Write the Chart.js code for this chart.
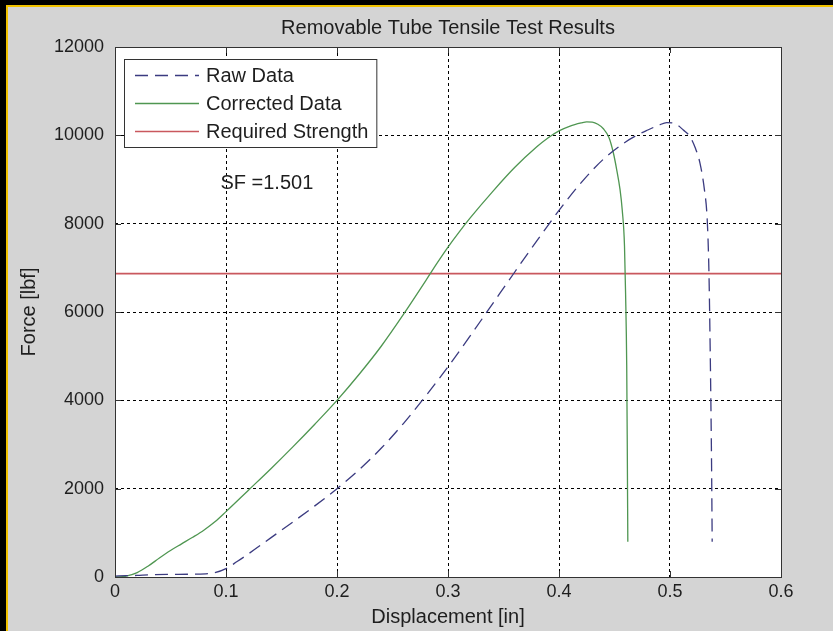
<!DOCTYPE html>
<html lang="en">
<head>
<meta charset="UTF-8">
<title>Removable Tube Tensile Test Results</title>
<script src="https://cdn.jsdelivr.net/npm/chart.js"></script>
<style>
  html, body { margin: 0; padding: 0; background: #000; }
  canvas { display: block; }
</style>
</head>
<body>
<canvas id="tensileChart" width="833" height="631"></canvas>
<script>
// values: displacement [in], force [lbf]
const rawDisp = [0, 0.01, 0.02, 0.03, 0.05, 0.07, 0.09, 0.10, 0.11, 0.12, 0.14, 0.16, 0.18, 0.20,
  0.22, 0.24, 0.26, 0.28, 0.30, 0.32, 0.34, 0.36, 0.38, 0.40, 0.42, 0.44, 0.46, 0.47, 0.48, 0.49,
  0.497, 0.505, 0.512, 0.518, 0.523, 0.527, 0.531, 0.5335, 0.535, 0.536, 0.537, 0.5375, 0.538];
const rawForce = [20, 30, 35, 50, 60, 65, 100, 190, 350, 520, 880, 1240, 1610, 2000,
  2430, 2920, 3480, 4100, 4760, 5460, 6180, 6900, 7610, 8300, 8930, 9460, 9850, 10000, 10120, 10230,
  10290, 10260, 10120, 9970, 9700, 9370, 8770, 8100, 7000, 5500, 3600, 2400, 800];

const corrDisp = [0, 0.01, 0.02, 0.03, 0.04, 0.05, 0.06, 0.07, 0.08, 0.09, 0.10, 0.12, 0.14, 0.16,
  0.18, 0.20, 0.22, 0.24, 0.26, 0.28, 0.29, 0.30, 0.31, 0.32, 0.34, 0.36, 0.38, 0.39, 0.40, 0.41,
  0.42, 0.425, 0.43, 0.435, 0.44, 0.445, 0.449, 0.452, 0.455, 0.457, 0.459, 0.460, 0.461, 0.4615, 0.462];
const corrForce = [0, 20, 100, 250, 430, 600, 750, 900, 1060, 1250, 1480, 1960, 2440, 2940,
  3460, 4000, 4590, 5230, 5950, 6710, 7100, 7470, 7810, 8130, 8720, 9270, 9740, 9940, 10100, 10210,
  10280, 10305, 10300, 10250, 10150, 9950, 9600, 9220, 8770, 8300, 7500, 6400, 4800, 3000, 800];

const requiredDisp = [0, 0.6];
const requiredForce = [6870, 6870];

const seriesNames = ['Raw Data', 'Corrected Data', 'Required Strength'];
const xTickLabels = ['0', '0.1', '0.2', '0.3', '0.4', '0.5', '0.6'];
const yTickLabels = ['0', '2000', '4000', '6000', '8000', '10000', '12000'];
const sfLabel = 'SF =1.501';

const FONT = '"Liberation Sans", Arial, sans-serif';
const TEXT = '#1e1e1e';

function pts(xs, ys) {
  return xs.map((x, i) => ({ x: x, y: ys[i] }));
}

// panel background, axes box, inner tick marks, SF note and the boxed legend
const matlabFrame = {
  id: 'matlabFrame',
  beforeDraw(chart) {
    const { ctx, width, height, chartArea: a } = chart;
    ctx.save();
    ctx.fillStyle = '#000';
    ctx.fillRect(0, 0, width, height);
    ctx.fillStyle = '#f2c300';
    ctx.fillRect(6, 5, width, height);
    ctx.fillStyle = '#d4d4d4';
    ctx.fillRect(8, 7, width, height);
    ctx.fillStyle = '#fff';
    ctx.fillRect(a.left, a.top, a.right - a.left, a.bottom - a.top);
    ctx.restore();
  },
  afterDatasetsDraw(chart) {
    const { ctx, chartArea: a, scales } = chart;
    ctx.save();
    ctx.strokeStyle = '#333';
    ctx.lineWidth = 1;
    ctx.setLineDash([]);
    ctx.beginPath();
    scales.x.ticks.forEach(t => {
      const px = Math.round(scales.x.getPixelForValue(t.value)) + 0.5;
      ctx.moveTo(px, a.bottom); ctx.lineTo(px, a.bottom - 6);
      ctx.moveTo(px, a.top); ctx.lineTo(px, a.top + 6);
    });
    scales.y.ticks.forEach(t => {
      const py = Math.round(scales.y.getPixelForValue(t.value)) + 0.5;
      ctx.moveTo(a.left, py); ctx.lineTo(a.left + 6, py);
      ctx.moveTo(a.right, py); ctx.lineTo(a.right - 6, py);
    });
    ctx.stroke();
    ctx.strokeRect(Math.round(a.left) + 0.5, Math.round(a.top) + 0.5,
      Math.round(a.right - a.left), Math.round(a.bottom - a.top));

    ctx.fillStyle = TEXT;
    ctx.font = '20px ' + FONT;
    ctx.textAlign = 'left';
    ctx.textBaseline = 'middle';
    ctx.fillText(sfLabel, scales.x.getPixelForValue(0.095), scales.y.getPixelForValue(8920));
    ctx.restore();
  },
  afterDraw(chart) {
    const { ctx, chartArea: a } = chart;
    const sets = chart.data.datasets;
    ctx.save();
    ctx.font = '20px ' + FONT;
    const textW = Math.max(...sets.map(d => ctx.measureText(d.label).width));
    const lx = Math.round(a.left) + 9, ly = Math.round(a.top) + 12;
    const w = 82 + textW + 8, h = 88;
    ctx.fillStyle = '#fff';
    ctx.fillRect(lx, ly, w, h);
    ctx.strokeStyle = '#333';
    ctx.lineWidth = 1;
    ctx.strokeRect(lx + 0.5, ly + 0.5, w, h);
    sets.forEach((d, i) => {
      const y = ly + 16 + i * 28;
      ctx.strokeStyle = d.borderColor;
      ctx.lineWidth = d.borderWidth;
      ctx.setLineDash(d.borderDash || []);
      ctx.beginPath();
      ctx.moveTo(lx + 11, y + 0.5);
      ctx.lineTo(lx + 75, y + 0.5);
      ctx.stroke();
      ctx.setLineDash([]);
      ctx.fillStyle = TEXT;
      ctx.textAlign = 'left';
      ctx.textBaseline = 'middle';
      ctx.fillText(d.label, lx + 82, y + 1);
    });
    ctx.restore();
  }
};

new Chart(document.getElementById('tensileChart'), {
  type: 'scatter',
  data: {
    datasets: [{
      label: seriesNames[0],
      data: pts(rawDisp, rawForce),
      showLine: true,
      borderColor: '#3b3b80',
      borderWidth: 1.3,
      borderDash: [13, 7],
      pointRadius: 0,
      cubicInterpolationMode: 'monotone'
    }, {
      label: seriesNames[1],
      data: pts(corrDisp, corrForce),
      showLine: true,
      borderColor: '#4f9651',
      borderWidth: 1.3,
      pointRadius: 0,
      cubicInterpolationMode: 'monotone'
    }, {
      label: seriesNames[2],
      data: pts(requiredDisp, requiredForce),
      showLine: true,
      borderColor: '#c9585e',
      borderWidth: 1.6,
      pointRadius: 0
    }]
  },
  options: {
    responsive: false,
    animation: false,
    layout: { padding: { left: 0, right: 52, top: 0, bottom: 0 } },
    plugins: {
      legend: { display: false },
      tooltip: { enabled: false },
      title: {
        display: true,
        fullSize: false,
        text: 'Removable Tube Tensile Test Results',
        color: TEXT,
        font: { family: FONT, size: 20, weight: 'normal' },
        padding: { top: 16, bottom: 7 }
      }
    },
    scales: {
      x: {
        type: 'linear',
        min: 0,
        max: 0.6,
        afterFit(scale) { scale.height = 54; },
        grid: { color: '#000', lineWidth: 1, drawTicks: false },
        border: { display: false, dash: [3, 3] },
        ticks: {
          stepSize: 0.1,
          padding: 4,
          color: TEXT,
          font: { family: FONT, size: 18 },
          callback: v => xTickLabels[Math.round(v * 10)]
        },
        title: {
          display: true,
          text: 'Displacement [in]',
          color: TEXT,
          font: { family: FONT, size: 20 },
          padding: { top: 0, bottom: 2 }
        }
      },
      y: {
        type: 'linear',
        min: 0,
        max: 12000,
        afterFit(scale) { scale.width = 115; },
        grid: { color: '#000', lineWidth: 1, drawTicks: false },
        border: { display: false, dash: [3, 3] },
        ticks: {
          stepSize: 2000,
          padding: 11,
          color: TEXT,
          font: { family: FONT, size: 18 },
          callback: v => yTickLabels[Math.round(v / 2000)]
        },
        title: {
          display: true,
          text: 'Force [lbf]',
          color: TEXT,
          font: { family: FONT, size: 20 },
          padding: { top: 17, bottom: 0 }
        }
      }
    }
  },
  plugins: [matlabFrame]
});
</script>
</body>
</html>
